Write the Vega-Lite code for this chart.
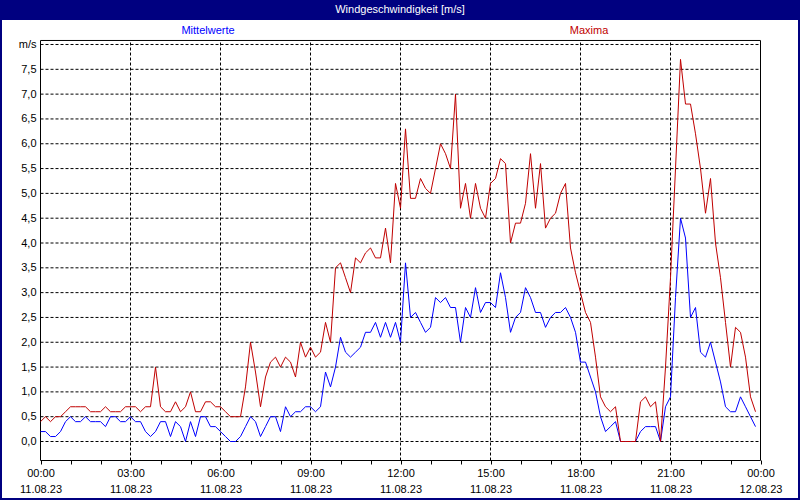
{
  "$schema": "https://vega.github.io/schema/vega-lite/v6.json",
  "autosize": "none",
  "width": 796,
  "height": 478,
  "padding": {"left": 2, "top": 20, "right": 2, "bottom": 2},
  "background": "#000080",
  "config": {"view": {"fill": "#ffffff", "stroke": null}, "font": "Liberation Sans"},
  "title": {"text": "Windgeschwindigkeit [m/s]", "color": "#ffffff", "fontSize": 11, "fontWeight": "normal", "font": "Liberation Sans", "anchor": "middle", "frame": "group", "offset": 5},
  "datasets": {
    "wind": [
      {"t": "2023-08-11T00:00", "Mittelwerte": 0.2, "Maxima": 0.4},
      {"t": "2023-08-11T00:10", "Mittelwerte": 0.2, "Maxima": 0.5},
      {"t": "2023-08-11T00:20", "Mittelwerte": 0.1, "Maxima": 0.4},
      {"t": "2023-08-11T00:30", "Mittelwerte": 0.1, "Maxima": 0.5},
      {"t": "2023-08-11T00:40", "Mittelwerte": 0.2, "Maxima": 0.5},
      {"t": "2023-08-11T00:50", "Mittelwerte": 0.4, "Maxima": 0.6},
      {"t": "2023-08-11T01:00", "Mittelwerte": 0.5, "Maxima": 0.7},
      {"t": "2023-08-11T01:10", "Mittelwerte": 0.4, "Maxima": 0.7},
      {"t": "2023-08-11T01:20", "Mittelwerte": 0.4, "Maxima": 0.7},
      {"t": "2023-08-11T01:30", "Mittelwerte": 0.5, "Maxima": 0.7},
      {"t": "2023-08-11T01:40", "Mittelwerte": 0.4, "Maxima": 0.6},
      {"t": "2023-08-11T01:50", "Mittelwerte": 0.4, "Maxima": 0.6},
      {"t": "2023-08-11T02:00", "Mittelwerte": 0.4, "Maxima": 0.6},
      {"t": "2023-08-11T02:10", "Mittelwerte": 0.3, "Maxima": 0.7},
      {"t": "2023-08-11T02:20", "Mittelwerte": 0.5, "Maxima": 0.6},
      {"t": "2023-08-11T02:30", "Mittelwerte": 0.5, "Maxima": 0.6},
      {"t": "2023-08-11T02:40", "Mittelwerte": 0.4, "Maxima": 0.6},
      {"t": "2023-08-11T02:50", "Mittelwerte": 0.4, "Maxima": 0.7},
      {"t": "2023-08-11T03:00", "Mittelwerte": 0.5, "Maxima": 0.7},
      {"t": "2023-08-11T03:10", "Mittelwerte": 0.4, "Maxima": 0.7},
      {"t": "2023-08-11T03:20", "Mittelwerte": 0.4, "Maxima": 0.6},
      {"t": "2023-08-11T03:30", "Mittelwerte": 0.2, "Maxima": 0.7},
      {"t": "2023-08-11T03:40", "Mittelwerte": 0.1, "Maxima": 0.7},
      {"t": "2023-08-11T03:50", "Mittelwerte": 0.2, "Maxima": 1.5},
      {"t": "2023-08-11T04:00", "Mittelwerte": 0.4, "Maxima": 0.7},
      {"t": "2023-08-11T04:10", "Mittelwerte": 0.4, "Maxima": 0.6},
      {"t": "2023-08-11T04:20", "Mittelwerte": 0.1, "Maxima": 0.6},
      {"t": "2023-08-11T04:30", "Mittelwerte": 0.4, "Maxima": 0.8},
      {"t": "2023-08-11T04:40", "Mittelwerte": 0.3, "Maxima": 0.6},
      {"t": "2023-08-11T04:50", "Mittelwerte": 0.0, "Maxima": 0.7},
      {"t": "2023-08-11T05:00", "Mittelwerte": 0.4, "Maxima": 1.0},
      {"t": "2023-08-11T05:10", "Mittelwerte": 0.1, "Maxima": 0.6},
      {"t": "2023-08-11T05:20", "Mittelwerte": 0.5, "Maxima": 0.6},
      {"t": "2023-08-11T05:30", "Mittelwerte": 0.5, "Maxima": 0.8},
      {"t": "2023-08-11T05:40", "Mittelwerte": 0.3, "Maxima": 0.8},
      {"t": "2023-08-11T05:50", "Mittelwerte": 0.3, "Maxima": 0.7},
      {"t": "2023-08-11T06:00", "Mittelwerte": 0.2, "Maxima": 0.7},
      {"t": "2023-08-11T06:10", "Mittelwerte": 0.1, "Maxima": 0.6},
      {"t": "2023-08-11T06:20", "Mittelwerte": 0.0, "Maxima": 0.5},
      {"t": "2023-08-11T06:30", "Mittelwerte": 0.0, "Maxima": 0.5},
      {"t": "2023-08-11T06:40", "Mittelwerte": 0.1, "Maxima": 0.5},
      {"t": "2023-08-11T06:50", "Mittelwerte": 0.3, "Maxima": 1.1},
      {"t": "2023-08-11T07:00", "Mittelwerte": 0.5, "Maxima": 2.0},
      {"t": "2023-08-11T07:10", "Mittelwerte": 0.4, "Maxima": 1.4},
      {"t": "2023-08-11T07:20", "Mittelwerte": 0.1, "Maxima": 0.7},
      {"t": "2023-08-11T07:30", "Mittelwerte": 0.3, "Maxima": 1.3},
      {"t": "2023-08-11T07:40", "Mittelwerte": 0.5, "Maxima": 1.6},
      {"t": "2023-08-11T07:50", "Mittelwerte": 0.5, "Maxima": 1.7},
      {"t": "2023-08-11T08:00", "Mittelwerte": 0.2, "Maxima": 1.5},
      {"t": "2023-08-11T08:10", "Mittelwerte": 0.7, "Maxima": 1.7},
      {"t": "2023-08-11T08:20", "Mittelwerte": 0.5, "Maxima": 1.6},
      {"t": "2023-08-11T08:30", "Mittelwerte": 0.6, "Maxima": 1.3},
      {"t": "2023-08-11T08:40", "Mittelwerte": 0.6, "Maxima": 2.0},
      {"t": "2023-08-11T08:50", "Mittelwerte": 0.7, "Maxima": 1.7},
      {"t": "2023-08-11T09:00", "Mittelwerte": 0.7, "Maxima": 1.9},
      {"t": "2023-08-11T09:10", "Mittelwerte": 0.6, "Maxima": 1.7},
      {"t": "2023-08-11T09:20", "Mittelwerte": 0.7, "Maxima": 1.8},
      {"t": "2023-08-11T09:30", "Mittelwerte": 1.4, "Maxima": 2.4},
      {"t": "2023-08-11T09:40", "Mittelwerte": 1.1, "Maxima": 2.0},
      {"t": "2023-08-11T09:50", "Mittelwerte": 1.5, "Maxima": 3.5},
      {"t": "2023-08-11T10:00", "Mittelwerte": 2.1, "Maxima": 3.6},
      {"t": "2023-08-11T10:10", "Mittelwerte": 1.8, "Maxima": 3.3},
      {"t": "2023-08-11T10:20", "Mittelwerte": 1.7, "Maxima": 3.0},
      {"t": "2023-08-11T10:30", "Mittelwerte": 1.8, "Maxima": 3.7},
      {"t": "2023-08-11T10:40", "Mittelwerte": 1.9, "Maxima": 3.6},
      {"t": "2023-08-11T10:50", "Mittelwerte": 2.2, "Maxima": 3.8},
      {"t": "2023-08-11T11:00", "Mittelwerte": 2.2, "Maxima": 3.9},
      {"t": "2023-08-11T11:10", "Mittelwerte": 2.4, "Maxima": 3.7},
      {"t": "2023-08-11T11:20", "Mittelwerte": 2.1, "Maxima": 3.7},
      {"t": "2023-08-11T11:30", "Mittelwerte": 2.4, "Maxima": 4.3},
      {"t": "2023-08-11T11:40", "Mittelwerte": 2.1, "Maxima": 3.6},
      {"t": "2023-08-11T11:50", "Mittelwerte": 2.4, "Maxima": 5.2},
      {"t": "2023-08-11T12:00", "Mittelwerte": 2.0, "Maxima": 4.7},
      {"t": "2023-08-11T12:10", "Mittelwerte": 3.6, "Maxima": 6.3},
      {"t": "2023-08-11T12:20", "Mittelwerte": 2.5, "Maxima": 4.9},
      {"t": "2023-08-11T12:30", "Mittelwerte": 2.6, "Maxima": 4.9},
      {"t": "2023-08-11T12:40", "Mittelwerte": 2.4, "Maxima": 5.3},
      {"t": "2023-08-11T12:50", "Mittelwerte": 2.2, "Maxima": 5.1},
      {"t": "2023-08-11T13:00", "Mittelwerte": 2.3, "Maxima": 5.0},
      {"t": "2023-08-11T13:10", "Mittelwerte": 2.9, "Maxima": 5.5},
      {"t": "2023-08-11T13:20", "Mittelwerte": 2.8, "Maxima": 6.0},
      {"t": "2023-08-11T13:30", "Mittelwerte": 2.9, "Maxima": 5.8},
      {"t": "2023-08-11T13:40", "Mittelwerte": 2.7, "Maxima": 5.5},
      {"t": "2023-08-11T13:50", "Mittelwerte": 2.7, "Maxima": 7.0},
      {"t": "2023-08-11T14:00", "Mittelwerte": 2.0, "Maxima": 4.7},
      {"t": "2023-08-11T14:10", "Mittelwerte": 2.7, "Maxima": 5.2},
      {"t": "2023-08-11T14:20", "Mittelwerte": 2.5, "Maxima": 4.5},
      {"t": "2023-08-11T14:30", "Mittelwerte": 3.1, "Maxima": 5.2},
      {"t": "2023-08-11T14:40", "Mittelwerte": 2.6, "Maxima": 4.7},
      {"t": "2023-08-11T14:50", "Mittelwerte": 2.8, "Maxima": 4.5},
      {"t": "2023-08-11T15:00", "Mittelwerte": 2.8, "Maxima": 5.2},
      {"t": "2023-08-11T15:10", "Mittelwerte": 2.7, "Maxima": 5.3},
      {"t": "2023-08-11T15:20", "Mittelwerte": 3.4, "Maxima": 5.7},
      {"t": "2023-08-11T15:30", "Mittelwerte": 2.9, "Maxima": 5.6},
      {"t": "2023-08-11T15:40", "Mittelwerte": 2.2, "Maxima": 4.0},
      {"t": "2023-08-11T15:50", "Mittelwerte": 2.5, "Maxima": 4.4},
      {"t": "2023-08-11T16:00", "Mittelwerte": 2.6, "Maxima": 4.4},
      {"t": "2023-08-11T16:10", "Mittelwerte": 3.1, "Maxima": 4.8},
      {"t": "2023-08-11T16:20", "Mittelwerte": 2.9, "Maxima": 5.8},
      {"t": "2023-08-11T16:30", "Mittelwerte": 2.6, "Maxima": 4.7},
      {"t": "2023-08-11T16:40", "Mittelwerte": 2.6, "Maxima": 5.6},
      {"t": "2023-08-11T16:50", "Mittelwerte": 2.3, "Maxima": 4.3},
      {"t": "2023-08-11T17:00", "Mittelwerte": 2.5, "Maxima": 4.5},
      {"t": "2023-08-11T17:10", "Mittelwerte": 2.6, "Maxima": 4.6},
      {"t": "2023-08-11T17:20", "Mittelwerte": 2.6, "Maxima": 5.0},
      {"t": "2023-08-11T17:30", "Mittelwerte": 2.7, "Maxima": 5.2},
      {"t": "2023-08-11T17:40", "Mittelwerte": 2.5, "Maxima": 3.9},
      {"t": "2023-08-11T17:50", "Mittelwerte": 2.2, "Maxima": 3.4},
      {"t": "2023-08-11T18:00", "Mittelwerte": 1.6, "Maxima": 3.0},
      {"t": "2023-08-11T18:10", "Mittelwerte": 1.6, "Maxima": 2.6},
      {"t": "2023-08-11T18:20", "Mittelwerte": 1.3, "Maxima": 2.4},
      {"t": "2023-08-11T18:30", "Mittelwerte": 1.0, "Maxima": 1.7},
      {"t": "2023-08-11T18:40", "Mittelwerte": 0.5, "Maxima": 0.9},
      {"t": "2023-08-11T18:50", "Mittelwerte": 0.2, "Maxima": 0.7},
      {"t": "2023-08-11T19:00", "Mittelwerte": 0.3, "Maxima": 0.6},
      {"t": "2023-08-11T19:10", "Mittelwerte": 0.4, "Maxima": 0.7},
      {"t": "2023-08-11T19:20", "Mittelwerte": 0.0, "Maxima": 0.0},
      {"t": "2023-08-11T19:30", "Mittelwerte": 0.0, "Maxima": 0.0},
      {"t": "2023-08-11T19:40", "Mittelwerte": 0.0, "Maxima": 0.0},
      {"t": "2023-08-11T19:50", "Mittelwerte": 0.0, "Maxima": 0.0},
      {"t": "2023-08-11T20:00", "Mittelwerte": 0.2, "Maxima": 0.8},
      {"t": "2023-08-11T20:10", "Mittelwerte": 0.3, "Maxima": 0.9},
      {"t": "2023-08-11T20:20", "Mittelwerte": 0.3, "Maxima": 0.7},
      {"t": "2023-08-11T20:30", "Mittelwerte": 0.3, "Maxima": 0.8},
      {"t": "2023-08-11T20:40", "Mittelwerte": 0.0, "Maxima": 0.0},
      {"t": "2023-08-11T20:50", "Mittelwerte": 0.7, "Maxima": 1.5},
      {"t": "2023-08-11T21:00", "Mittelwerte": 0.9, "Maxima": 3.3},
      {"t": "2023-08-11T21:10", "Mittelwerte": 2.9, "Maxima": 5.5},
      {"t": "2023-08-11T21:20", "Mittelwerte": 4.5, "Maxima": 7.7},
      {"t": "2023-08-11T21:30", "Mittelwerte": 4.1, "Maxima": 6.8},
      {"t": "2023-08-11T21:40", "Mittelwerte": 2.5, "Maxima": 6.8},
      {"t": "2023-08-11T21:50", "Mittelwerte": 2.7, "Maxima": 6.2},
      {"t": "2023-08-11T22:00", "Mittelwerte": 1.8, "Maxima": 5.5},
      {"t": "2023-08-11T22:10", "Mittelwerte": 1.7, "Maxima": 4.6},
      {"t": "2023-08-11T22:20", "Mittelwerte": 2.0, "Maxima": 5.3},
      {"t": "2023-08-11T22:30", "Mittelwerte": 1.6, "Maxima": 4.0},
      {"t": "2023-08-11T22:40", "Mittelwerte": 1.2, "Maxima": 3.3},
      {"t": "2023-08-11T22:50", "Mittelwerte": 0.7, "Maxima": 2.4},
      {"t": "2023-08-11T23:00", "Mittelwerte": 0.6, "Maxima": 1.5},
      {"t": "2023-08-11T23:10", "Mittelwerte": 0.6, "Maxima": 2.3},
      {"t": "2023-08-11T23:20", "Mittelwerte": 0.9, "Maxima": 2.2},
      {"t": "2023-08-11T23:30", "Mittelwerte": 0.7, "Maxima": 1.7},
      {"t": "2023-08-11T23:40", "Mittelwerte": 0.5, "Maxima": 0.9},
      {"t": "2023-08-11T23:50", "Mittelwerte": 0.3, "Maxima": 0.6}
    ],
    "hgrid": [
      {"v": 0}, {"v": 0.5}, {"v": 1}, {"v": 1.5}, {"v": 2}, {"v": 2.5}, {"v": 3}, {"v": 3.5}, {"v": 4},
      {"v": 4.5}, {"v": 5}, {"v": 5.5}, {"v": 6}, {"v": 6.5}, {"v": 7}, {"v": 7.5}, {"v": 8}
    ]
  },
  "encoding": {
    "x": {"type": "temporal",
      "scale": {"domain": [{"year": 2023, "month": 8, "date": 10, "hours": 22, "minutes": 43}, {"year": 2023, "month": 8, "date": 12, "hours": 1, "minutes": 15}]},
      "axis": {
        "values": [
          {"year": 2023, "month": 8, "date": 11, "hours": 0}, {"year": 2023, "month": 8, "date": 11, "hours": 1},
          {"year": 2023, "month": 8, "date": 11, "hours": 2}, {"year": 2023, "month": 8, "date": 11, "hours": 3},
          {"year": 2023, "month": 8, "date": 11, "hours": 4}, {"year": 2023, "month": 8, "date": 11, "hours": 5},
          {"year": 2023, "month": 8, "date": 11, "hours": 6}, {"year": 2023, "month": 8, "date": 11, "hours": 7},
          {"year": 2023, "month": 8, "date": 11, "hours": 8}, {"year": 2023, "month": 8, "date": 11, "hours": 9},
          {"year": 2023, "month": 8, "date": 11, "hours": 10}, {"year": 2023, "month": 8, "date": 11, "hours": 11},
          {"year": 2023, "month": 8, "date": 11, "hours": 12}, {"year": 2023, "month": 8, "date": 11, "hours": 13},
          {"year": 2023, "month": 8, "date": 11, "hours": 14}, {"year": 2023, "month": 8, "date": 11, "hours": 15},
          {"year": 2023, "month": 8, "date": 11, "hours": 16}, {"year": 2023, "month": 8, "date": 11, "hours": 17},
          {"year": 2023, "month": 8, "date": 11, "hours": 18}, {"year": 2023, "month": 8, "date": 11, "hours": 19},
          {"year": 2023, "month": 8, "date": 11, "hours": 20}, {"year": 2023, "month": 8, "date": 11, "hours": 21},
          {"year": 2023, "month": 8, "date": 11, "hours": 22}, {"year": 2023, "month": 8, "date": 11, "hours": 23},
          {"year": 2023, "month": 8, "date": 12, "hours": 0}
        ],
        "labelExpr": "hours(datum.value) % 3 == 0 ? [timeFormat(datum.value, '%H:%M'), timeFormat(datum.value, '%d.%m.%y')] : ''",
        "grid": false, "domain": false, "ticks": true, "tickSize": 4, "tickColor": "#000000", "offset": -38,
        "labelPadding": 3, "labelFont": "Liberation Sans", "labelFontSize": 11, "labelLineHeight": 16,
        "labelColor": "#000000", "labelOverlap": false, "labelFlush": false, "labelBound": false, "title": null
      }},
    "y": {"type": "quantitative",
      "scale": {"domain": [-1.1385, 8.4937], "nice": false, "zero": false},
      "axis": {"values": [0, 0.5, 1, 1.5, 2, 2.5, 3, 3.5, 4, 4.5, 5, 5.5, 6, 6.5, 7, 7.5, 8],
        "labelExpr": "datum.value == 8 ? 'm/s' : replace(format(datum.value, '.1f'), '.', ',')",
        "grid": false, "ticks": false, "domain": false, "offset": -38, "labelPadding": 4,
        "labelFont": "Liberation Sans", "labelFontSize": 11, "labelColor": "#000000", "title": null}}
  },
  "layer": [
    {
      "data": {"name": "hgrid"},
      "mark": {"type": "rule", "color": "#000000", "strokeWidth": 1, "strokeDash": [3, 2]},
      "encoding": {
        "y": {"field": "v"},
        "x": {"datum": {"year": 2023, "month": 8, "date": 11, "hours": 0}},
        "x2": {"datum": {"year": 2023, "month": 8, "date": 12, "hours": 0}}
      }
    },
    {
      "data": {"name": "wind"},
      "transform": [{"filter": "minutes(datum.t) == 0 && hours(datum.t) % 3 == 0 && hours(datum.t) > 0"}],
      "mark": {"type": "rule", "color": "#000000", "strokeWidth": 1, "strokeDash": [3, 2]},
      "encoding": {
        "x": {"field": "t"},
        "y": {"datum": -0.383},
        "y2": {"datum": 8.081}
      }
    },
    {
      "data": {"values": [{}]},
      "mark": {"type": "rect", "filled": false, "stroke": "#000000", "strokeWidth": 1},
      "encoding": {
        "x": {"datum": {"year": 2023, "month": 8, "date": 11, "hours": 0}},
        "x2": {"datum": {"year": 2023, "month": 8, "date": 12, "hours": 0}},
        "y": {"datum": -0.383},
        "y2": {"datum": 8.081}
      }
    },
    {
      "data": {"name": "wind"},
      "mark": {"type": "line", "color": "#0000ff", "strokeWidth": 1},
      "encoding": {
        "x": {"field": "t"},
        "y": {"field": "Mittelwerte"}
      }
    },
    {
      "data": {"name": "wind"},
      "mark": {"type": "line", "color": "#c00000", "strokeWidth": 1},
      "encoding": {
        "x": {"field": "t"},
        "y": {"field": "Maxima"}
      }
    },
    {
      "data": {"values": [{}]},
      "mark": {"type": "text", "color": "#0000ff", "font": "Liberation Sans", "fontSize": 11, "baseline": "middle", "align": "center"},
      "encoding": {
        "x": {"datum": {"year": 2023, "month": 8, "date": 11, "hours": 5, "minutes": 35}},
        "y": {"datum": 8.272},
        "text": {"value": "Mittelwerte"}
      }
    },
    {
      "data": {"values": [{}]},
      "mark": {"type": "text", "color": "#c00000", "font": "Liberation Sans", "fontSize": 11, "baseline": "middle", "align": "center"},
      "encoding": {
        "x": {"datum": {"year": 2023, "month": 8, "date": 11, "hours": 18, "minutes": 17}},
        "y": {"datum": 8.272},
        "text": {"value": "Maxima"}
      }
    }
  ]
}
